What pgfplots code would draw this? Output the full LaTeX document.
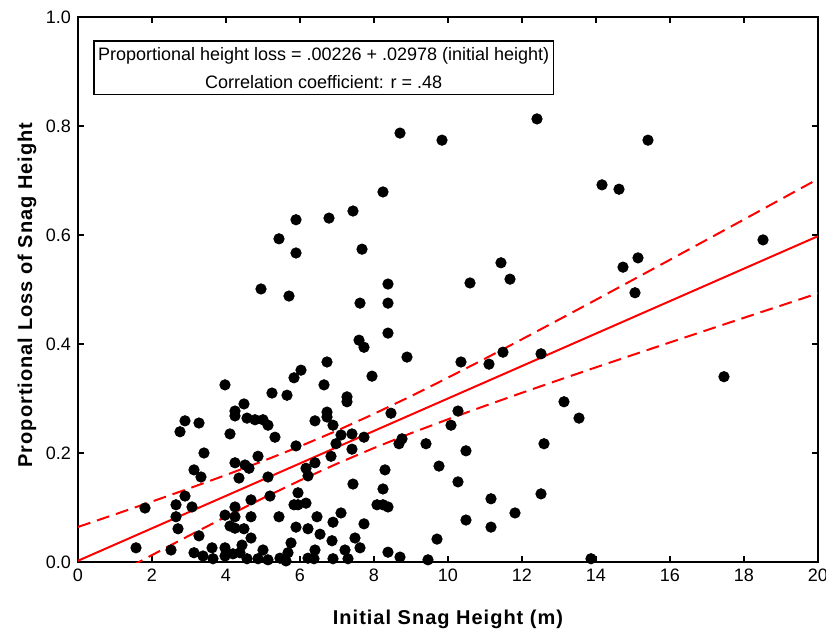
\documentclass[border=0pt]{standalone}
\usepackage{pgfplots}
\pgfplotsset{compat=1.18}
\usepackage{fontspec}
\setmainfont{Liberation Sans}
\newfontfamily\labelfont[LetterSpace=5]{Liberation Sans}

\pgfplotstableread{
x y
1.568 0.026
1.811 0.099
2.514 0.022
2.649 0.105
2.649 0.083
2.703 0.061
2.757 0.239
2.892 0.259
2.892 0.121
3.081 0.101
3.135 0.169
3.270 0.255
3.270 0.048
3.324 0.156
3.405 0.200
3.135 0.017
3.378 0.011
3.622 0.026
3.649 0.006
3.973 0.325
3.973 0.086
3.973 0.026
3.973 0.011
4.108 0.235
4.189 0.015
4.243 0.277
4.243 0.268
4.243 0.182
4.243 0.101
4.243 0.083
4.243 0.062
4.351 0.154
4.378 0.017
4.432 0.031
4.486 0.290
4.486 0.061
4.514 0.178
4.568 0.264
4.568 0.006
4.108 0.066
4.622 0.172
4.676 0.114
4.676 0.083
4.676 0.044
4.784 0.261
4.865 0.194
4.865 0.006
5.000 0.261
5.000 0.022
5.135 0.251
5.135 0.156
5.135 0.004
5.189 0.121
5.243 0.310
5.324 0.229
5.432 0.083
5.459 0.007
5.622 0.002
5.649 0.306
5.432 0.593
5.703 0.488
4.946 0.501
5.757 0.035
5.676 0.017
5.838 0.338
5.892 0.628
5.892 0.567
5.892 0.213
5.892 0.064
5.838 0.105
5.946 0.105
5.946 0.127
6.027 0.352
6.162 0.108
6.162 0.172
6.216 0.158
6.216 0.061
6.216 0.007
6.378 0.006
6.405 0.259
6.405 0.182
6.405 0.022
6.459 0.083
6.541 0.051
6.649 0.325
6.730 0.367
6.730 0.275
6.730 0.266
6.784 0.631
6.838 0.194
6.865 0.039
6.892 0.251
6.892 0.073
6.892 0.006
6.973 0.217
7.108 0.233
7.108 0.090
7.216 0.022
7.270 0.303
7.270 0.294
7.297 0.006
7.405 0.235
7.405 0.207
7.432 0.644
7.432 0.143
7.486 0.044
7.622 0.026
7.595 0.407
7.730 0.394
7.622 0.475
7.676 0.574
7.730 0.229
7.730 0.070
7.946 0.341
8.081 0.105
8.243 0.105
8.378 0.101
8.243 0.134
8.297 0.169
8.243 0.679
8.378 0.510
8.378 0.475
8.378 0.420
8.378 0.018
8.459 0.273
8.676 0.217
8.757 0.226
8.703 0.787
8.703 0.009
8.892 0.376
9.405 0.217
9.459 0.004
9.703 0.042
9.757 0.176
9.838 0.774
10.081 0.251
10.270 0.277
10.270 0.147
10.351 0.367
10.486 0.204
10.486 0.077
10.595 0.512
11.108 0.363
11.162 0.116
11.162 0.064
11.432 0.549
11.486 0.385
11.676 0.519
11.811 0.090
12.405 0.813
12.514 0.382
12.514 0.125
12.595 0.217
13.135 0.294
13.541 0.264
13.865 0.006
14.162 0.692
14.622 0.684
14.730 0.541
15.054 0.494
15.135 0.558
15.405 0.774
17.459 0.340
18.514 0.591
}\snagdata

\pgfplotstableread{
x up lo
0 0.0643 -0.0597
1 0.0874 -0.0234
2 0.1109 0.0127
3 0.1349 0.0483
4 0.1596 0.0832
5 0.1852 0.1171
6 0.2122 0.1496
7 0.2410 0.1804
8 0.2718 0.2092
9 0.3043 0.2363
10 0.3383 0.2619
11 0.3731 0.2865
12 0.4087 0.3105
13 0.4448 0.3340
14 0.4812 0.3572
15 0.5178 0.3801
16 0.5546 0.4029
17 0.5915 0.4255
18 0.6285 0.4481
19 0.6657 0.4705
20 0.7028 0.4930
}\bands

\begin{document}
\begin{tikzpicture}
\useasboundingbox (-39pt,-35.5pt) rectangle (374pt,281pt);
\begin{axis}[
  at={(0,0)}, anchor=south west,
  scale only axis, width=370pt, height=272.5pt,
  xmin=0, xmax=20, ymin=0, ymax=1,
  xtick={0,2,4,6,8,10,12,14,16,18,20},
  ytick={0,0.2,0.4,0.6,0.8,1.0},
  tick align=inside, major tick length=3pt,
  axis line style={line width=1pt},
  every tick/.style={black, line width=0.8pt},
  tick label style={font=\fontsize{9}{10}\selectfont},
  /pgf/number format/assume math mode=true,
  yticklabel style={/pgf/number format/.cd, fixed, fixed zerofill, precision=1},
  xlabel={Initial Snag Height (m)},
  ylabel={Proportional Loss of Snag Height},
  label style={font=\labelfont\bfseries\fontsize{10}{12}\selectfont},
  xlabel style={at={(axis description cs:0.5,-0.106)}, anchor=center},
  ylabel style={at={(axis description cs:-0.069,0.49)}, anchor=center},
]
\addplot[only marks, mark=*, mark size=2.6pt, black] table[x=x, y=y] {\snagdata};
\addplot[red, line width=1pt] coordinates {(0,0.00226) (20,0.59786)};
\addplot[red, line width=1pt, dash pattern=on 6.5pt off 3.5pt] table[x=x, y=up] {\bands};
\addplot[red, line width=1pt, dash pattern=on 6.5pt off 3.5pt] table[x=x, y=lo] {\bands};
\node[draw, line width=0.75pt, fill=white, align=center, inner xsep=2pt, inner ysep=3pt,
  font=\fontsize{9}{14}\selectfont] at (rel axis cs:0.332,0.907)
  {Proportional height loss = .00226 + .02978 (initial height)\\Correlation coefficient: r = .48};
\end{axis}
\end{tikzpicture}
\end{document}
